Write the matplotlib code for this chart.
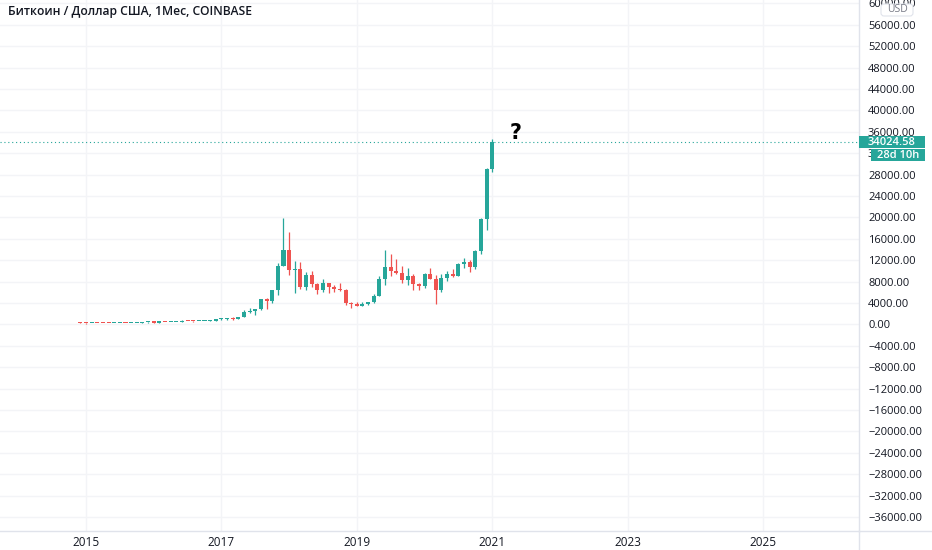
import numpy as np
import matplotlib.pyplot as plt
from matplotlib.patches import Rectangle, FancyBboxPatch
from matplotlib.lines import Line2D
from matplotlib.transforms import IdentityTransform
from matplotlib.ticker import FuncFormatter

plt.rcParams['font.family'] = ['Open Sans', 'DejaVu Sans']

# monthly candles, BTC/USD Coinbase
months = ['2014-12',
          '2015-01', '2015-02', '2015-03', '2015-04', '2015-05', '2015-06',
          '2015-07', '2015-08', '2015-09', '2015-10', '2015-11', '2015-12',
          '2016-01', '2016-02', '2016-03', '2016-04', '2016-05', '2016-06',
          '2016-07', '2016-08', '2016-09', '2016-10', '2016-11', '2016-12',
          '2017-01', '2017-02', '2017-03', '2017-04', '2017-05', '2017-06',
          '2017-07', '2017-08', '2017-09', '2017-10', '2017-11', '2017-12',
          '2018-01', '2018-02', '2018-03', '2018-04', '2018-05', '2018-06',
          '2018-07', '2018-08', '2018-09', '2018-10', '2018-11', '2018-12',
          '2019-01', '2019-02', '2019-03', '2019-04', '2019-05', '2019-06',
          '2019-07', '2019-08', '2019-09', '2019-10', '2019-11', '2019-12',
          '2020-01', '2020-02', '2020-03', '2020-04', '2020-05', '2020-06',
          '2020-07', '2020-08', '2020-09', '2020-10', '2020-11', '2020-12',
          '2021-01']
opens = [370,
         318, 217, 254, 244, 236, 230, 263, 284, 230, 236, 314, 377,
         430, 369, 437, 416, 448, 531, 673, 624, 575, 609, 700, 742,
         964, 970, 1190, 1080, 1350, 2300, 2480, 2875, 4735, 4340, 6470, 10860,
         14000, 10100, 10320, 6930, 9240, 7500, 6390, 7730, 7010, 6630, 6370, 4040,
         3740, 3440, 3820, 4110, 5350, 8560, 10820, 10080, 9590, 8290, 9140, 7540,
         7190, 9350, 8540, 6420, 8630, 9450, 9140, 11340, 11660, 10780, 13800, 19710,
         28990]
highs = [400,
         320, 265, 300, 261, 247, 268, 318, 286, 244, 335, 500, 468,
         460, 446, 440, 467, 550, 780, 700, 630, 630, 740, 755, 980,
         1150, 1210, 1350, 1400, 2790, 3000, 2930, 4770, 5000, 6470, 11400, 19890,
         17250, 11790, 11710, 9770, 10020, 7770, 8510, 7760, 7420, 7680, 6600, 4240,
         4110, 4210, 4140, 5640, 9070, 13880, 13130, 12330, 10950, 10540, 9510, 7750,
         9580, 10500, 9190, 9480, 10080, 10390, 11450, 12480, 12080, 14000, 19920, 29300,
         34700]
lows = [300,
        160, 212, 240, 215, 226, 218, 252, 198, 225, 236, 300, 350,
        350, 366, 395, 412, 440, 520, 600, 480, 570, 605, 680, 740,
        750, 915, 890, 1060, 1340, 2100, 1830, 2700, 2970, 4100, 5520, 10860,
        9200, 5870, 6600, 6430, 7060, 5780, 6070, 5880, 6110, 6200, 3550, 3120,
        3380, 3400, 3690, 4060, 5330, 7450, 9070, 9360, 7700, 7300, 6500, 6430,
        6850, 8450, 3850, 6160, 8110, 8920, 8990, 10520, 9880, 10380, 13210, 17570,
        28450]
closes = [318,
          217, 254, 244, 236, 230, 263, 284, 230, 236, 314, 377, 430,
          369, 437, 416, 448, 531, 673, 624, 575, 609, 700, 742, 964,
          970, 1190, 1080, 1350, 2300, 2480, 2875, 4735, 4340, 6470, 10860, 14000,
          10100, 10320, 6930, 9240, 7500, 6390, 7730, 7010, 6630, 6370, 4040, 3740,
          3440, 3820, 4110, 5350, 8560, 10820, 10080, 9590, 8290, 9140, 7540, 7190,
          9350, 8540, 6420, 8630, 9450, 9140, 11340, 11660, 10780, 13800, 19710, 28990,
          34024.58]

year_labels = ['2015', '2017', '2019', '2021', '2023', '2025']
price_ticks = list(range(-36000, 60001, 4000))
title = 'Биткоин / Доллар США, 1Мес, COINBASE'
countdown = '28d 10h'

GREEN = '#26a69a'
RED = '#ef5350'
TXT = '#131722'
GRID = '#f3f4f7'
BORDER = '#e0e3eb'

W, H = 932, 550


def fx(px):
    return px / W


def fy(py):
    return 1 - py / H


fig = plt.figure(figsize=(W / 100, H / 100), dpi=100)
ax = fig.add_axes([0, fy(531), fx(859), 531 / H])

x = np.arange(len(months))
o = np.array(opens, dtype=float)
hi = np.array(highs, dtype=float)
lo = np.array(lows, dtype=float)
c = np.array(closes, dtype=float)
up = c >= o
cols = np.where(up, GREEN, RED)

# wicks and bodies
ax.vlines(x, lo, hi, colors=cols, lw=0.9, zorder=3)
body_lo = np.minimum(o, c)
body_h = np.maximum(np.abs(c - o), 200)
ax.bar(x, body_h, bottom=body_lo, width=0.72, color=cols, lw=0, zorder=4)

# time axis: January of each labelled year
y0, m0 = map(int, months[0].split('-'))
xt = [(int(y) - y0) * 12 + (1 - m0) for y in year_labels]
ax.set_xticks(xt)
ax.set_xticklabels(year_labels)
ax.set_yticks(price_ticks)
ax.yaxis.set_major_formatter(FuncFormatter(
    lambda v, p: ('{:.2f}'.format(v)).replace('-', '\u2212')))
ax.yaxis.tick_right()

ax.set_xlim(-14.24, 138.0)
ax.set_ylim(-38600, 60650)

ax.grid(True, color=GRID, lw=1, zorder=0)
ax.set_axisbelow(True)
for s in ('top', 'left'):
    ax.spines[s].set_visible(False)
for s in ('right', 'bottom'):
    ax.spines[s].set_color(BORDER)
    ax.spines[s].set_linewidth(1)
ax.tick_params(axis='y', length=0, pad=6.5, labelsize=8, labelcolor=TXT)
ax.tick_params(axis='x', length=0, pad=3.5, labelsize=8.5, labelcolor=TXT)

# borders outside the plot
fig.add_artist(Line2D([fx(859), fx(859)], [0, fy(531)], color=BORDER, lw=1))
fig.add_artist(Line2D([fx(859), 1], [fy(531), fy(531)], color=BORDER, lw=1))

# last price line and labels
last = c[-1]
ax.axhline(last, color=GREEN, lw=0.8, ls=(0, (1, 2.5)), zorder=2)
ypix = ax.transData.transform((0, last))[1]
ident = IdentityTransform()
fig.add_artist(Rectangle((859, ypix - 6), 66, 12, transform=ident,
                         fc=GREEN, ec='none'))
fig.text(892, ypix, '{:.2f}'.format(last), transform=ident, ha='center',
         va='center', color='white', fontsize=8, fontweight='semibold')
fig.add_artist(Rectangle((871, ypix - 19), 54, 12, transform=ident,
                         fc=GREEN, ec='none'))
fig.text(898, ypix - 13, countdown, transform=ident, ha='center',
         va='center', color='white', fontsize=8, fontweight='semibold')

# currency badge
fig.add_artist(FancyBboxPatch((882, H - 15), 30, 10, transform=ident,
                              boxstyle='round,pad=1,rounding_size=3',
                              fc='white', ec=BORDER, lw=0.8, zorder=10))
fig.text(897, H - 10, 'USD', transform=ident, ha='center', va='center',
         color='#787b86', fontsize=7.5, zorder=11)

# hand-drawn question mark
ax.text(77.2, 35800, '?', fontsize=15, fontweight='bold',
        ha='center', va='center', color='black', family='DejaVu Sans')

fig.text(fx(8), fy(11), title, fontsize=8.7, fontweight='semibold',
         color=TXT, ha='left', va='center')

fig.savefig('out.png', dpi=100)
